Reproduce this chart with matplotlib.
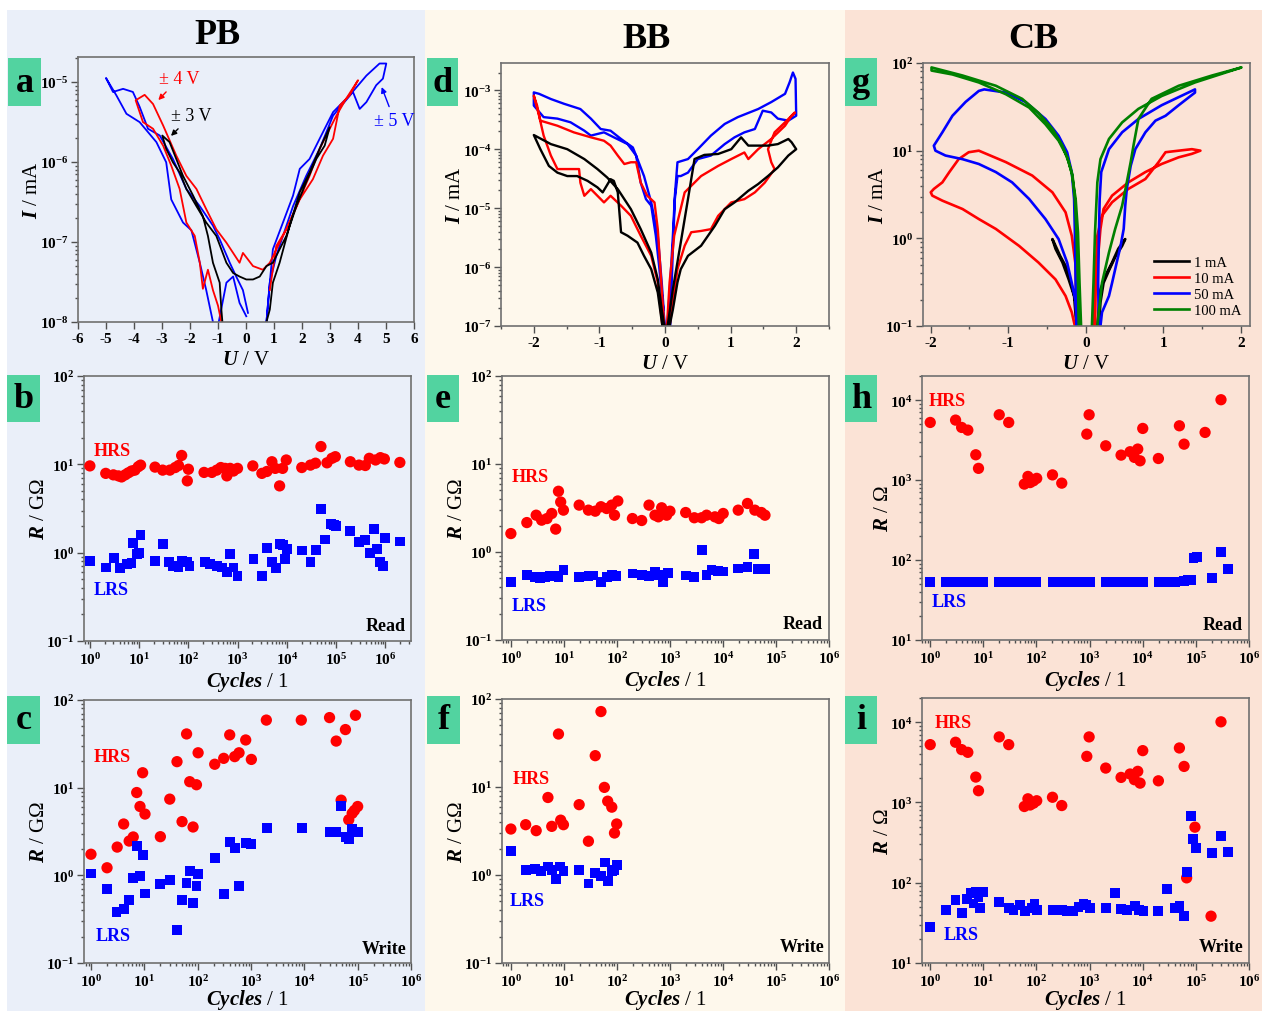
import matplotlib
matplotlib.use("Agg")
import matplotlib.pyplot as plt
from matplotlib.patches import Rectangle
from matplotlib.ticker import LogLocator, MultipleLocator, NullFormatter

plt.rcParams["font.family"] = ["Liberation Serif", "DejaVu Serif"]
plt.rcParams["font.weight"] = "bold"
plt.rcParams["mathtext.fontset"] = "custom"
plt.rcParams["mathtext.rm"] = "Liberation Serif:bold"
plt.rcParams["mathtext.it"] = "Liberation Serif:italic:bold"
plt.rcParams["mathtext.bf"] = "Liberation Serif:bold"
plt.rcParams["axes.unicode_minus"] = False

# ---------------- panel a: PB I-V loops ----------------
a_blue_U = [0.73, 0.85, 0.96, 1.32, 1.68, 1.92, 2.27, 2.63, 3.11, 3.70, 4.30, 4.77, 5.01,
            4.89, 4.65, 4.30, 4.06, 3.82, 3.11, 2.63, 2.15, 1.68, 1.32, 1.08, 0.85, 0.73]
a_blue_I = [1.0e-8, 3.1e-8, 8.1e-8, 1.75e-7, 3.8e-7, 8.2e-7, 1.09e-6, 1.95e-6, 4.2e-6, 6.8e-6, 1.2e-5, 1.7e-5, 1.7e-5,
            1.1e-5, 9.1e-6, 5.6e-6, 4.6e-6, 7.5e-6, 3.8e-6, 1.46e-6, 6.7e-7, 2.8e-7, 1.19e-7, 6.7e-8, 3.1e-8, 1.0e-8]
a_blue_neg_U = [0.07, -0.11, -0.35, -0.58, -0.94, -1.18, -1.65, -2.13, -2.61, -3.08, -3.5, -3.8, -4.04, -4.39, -4.75, -5.0,
                -4.63, -4.27, -3.8, -3.2, -2.85, -2.67, -2.25, -1.95, -1.65, -1.42, -1.18, -1.06, -0.70, -0.46, -0.23, 0.01]
a_blue_neg_I = [1.3e-8, 2.5e-8, 3.7e-8, 5.5e-8, 1.08e-7, 1.6e-7, 2.8e-7, 4.6e-7, 1.09e-6, 2.14e-6, 2.6e-6, 4.9e-6, 7.5e-6, 8.2e-6, 7.5e-6, 1.12e-5,
                6.8e-6, 4.0e-6, 3.15e-6, 1.77e-6, 9.9e-7, 3.4e-7, 1.75e-7, 1.4e-7, 5.5e-8, 2.5e-8, 1.0e-8, 7e-9, 3.1e-8, 3.7e-8, 1.73e-8, 1.18e-8]
a_red_U = [0.85, 1.08, 1.44, 1.80, 2.27, 2.63, 2.99, 3.23, 3.58, 4.0,
           3.70, 3.35, 3.11, 2.75, 2.39, 1.92, 1.56, 1.2, 0.85, 0.6, 0.25, -0.11,
           -0.23, -0.46, -0.70, -1.06, -1.42, -1.77, -2.13, -2.49, -2.96, -3.32, -3.62, -3.94,
           -3.68, -3.32, -2.96, -2.67, -2.37, -2.13, -1.83, -1.65, -1.54, -1.36, -1.18, -1.0, -0.88, -0.82]
a_red_I = [2.5e-8, 8.9e-8, 1.44e-7, 2.8e-7, 6.7e-7, 1.46e-6, 2.6e-6, 3.8e-6, 6.2e-6, 1.05e-5,
           6.8e-6, 5.1e-6, 1.95e-6, 1.2e-6, 6.1e-7, 3.4e-7, 1.75e-7, 9.8e-8, 5.5e-8, 4.5e-8, 5.0e-8, 7.3e-8,
           5.5e-8, 7.3e-8, 9.8e-8, 1.44e-7, 2.57e-7, 4.6e-7, 6.7e-7, 1.2e-6, 2.86e-6, 5.3e-6, 6.9e-6, 5.9e-6,
           3.15e-6, 2.6e-6, 1.6e-6, 9.0e-7, 4.6e-7, 1.75e-7, 1.19e-7, 5.5e-8, 2.6e-8, 4.5e-8, 2.5e-8, 1.6e-8, 1.0e-8, 7e-9]
a_black_U = [0.73, 0.85, 0.96, 1.20, 1.56, 1.92, 2.27, 2.63, 2.99,
             2.81, 2.51, 2.15, 1.80, 1.44, 1.20, 0.96, 0.73, 0.49, 0.25, 0.01,
             -0.23, -0.46, -0.70, -1.06, -1.42, -1.77, -2.13, -2.37, -2.61, -2.85, -2.99,
             -2.73, -2.49, -2.25, -1.89, -1.54, -1.36, -1.18, -0.94, -0.88, -0.82]
a_black_I = [1.0e-8, 1.43e-8, 3.1e-8, 5.5e-8, 1.6e-7, 4.2e-7, 7.4e-7, 1.46e-6, 2.72e-6,
             1.6e-6, 1.09e-6, 5.6e-7, 2.8e-7, 1.19e-7, 8.1e-8, 5.5e-8, 5.0e-8, 3.7e-8, 3.4e-8, 3.4e-8,
             3.7e-8, 4.1e-8, 5.5e-8, 1.19e-7, 1.75e-7, 2.8e-7, 4.6e-7, 7.4e-7, 9.9e-7, 1.46e-6, 2.14e-6,
             1.77e-6, 1.09e-6, 6.7e-7, 3.8e-7, 2.1e-7, 1.19e-7, 5.5e-8, 3.1e-8, 1.43e-8, 8e-9]

# ---------------- panel d: BB I-V loops ----------------
d_blue_U = ([-0.02, -0.05, -0.11, -0.21, -0.32, -0.42, -0.49, -0.67, -0.83, -0.98, -1.13, -1.29, -1.54, -1.74, -1.92, -2.0]
            + [-2.0, -1.85, -1.64, -1.44, -1.23, -1.13, -0.93, -0.78, -0.57, -0.44, -0.37, -0.29, -0.21, -0.14, -0.09, -0.04, 0.0]
            + [0.04, 0.08, 0.12, 0.15, 0.19, 0.35, 0.50, 0.70, 0.91, 1.11, 1.42, 1.62, 1.83, 1.90, 1.95, 1.99, 2.0]
            + [1.88, 1.72, 1.62, 1.49, 1.37, 1.21, 1.06, 0.91, 0.70, 0.50, 0.35, 0.24, 0.19, 0.15, 0.12, 0.08])
d_blue_I = ([1.9e-7, 5.5e-7, 3.4e-6, 1.25e-5, 3.5e-5, 6.8e-5, 1.07e-4, 1.49e-4, 2.06e-4, 2.2e-4, 3.3e-4, 4.8e-4, 5.9e-4, 7.1e-4, 8.7e-4, 9.2e-4]
            + [5.5e-4, 3.5e-4, 3.3e-4, 2.86e-4, 2.06e-4, 1.7e-4, 1.93e-4, 1.59e-4, 1.22e-4, 7.8e-5, 2.7e-5, 1.42e-5, 1.1e-5, 3.4e-6, 1.05e-6, 2.8e-7, 1e-7]
            + [1.14e-7, 5.5e-7, 3.4e-6, 1.62e-5, 6.0e-5, 6.8e-5, 1.0e-4, 1.7e-4, 2.68e-4, 3.5e-4, 4.8e-4, 6.3e-4, 8.7e-4, 1.37e-3, 2.0e-3, 1.56e-3, 3.7e-4]
            + [3.05e-4, 3.3e-4, 4.2e-4, 4.5e-4, 2.2e-4, 1.93e-4, 1.59e-4, 1.22e-4, 7.8e-5, 6.8e-5, 4.0e-5, 3.5e-5, 3.5e-5, 1.42e-5, 2.0e-6, 1e-7])
d_red_U = ([-0.01, -0.05, -0.11, -0.16, -0.27, -0.37, -0.44, -0.52, -0.62, -0.72, -0.83, -0.93, -1.13, -1.39, -1.64, -1.90, -1.95, -2.0]
           + [-1.92, -1.85, -1.74, -1.64, -1.39, -1.31, -1.29, -1.23, -1.13, -1.03, -0.93, -0.83, -0.67, -0.52, -0.37, -0.21, -0.11, -0.04]
           + [0.03, 0.07, 0.14, 0.30, 0.55, 0.81, 1.01, 1.21, 1.27, 1.42, 1.62, 1.83, 1.93, 1.98]
           + [1.83, 1.67, 1.57, 1.62, 1.67, 1.52, 1.37, 1.21, 1.01, 0.81, 0.70, 0.55, 0.40, 0.30, 0.19, 0.12, 0.07])
d_red_I = ([1e-7, 4.2e-7, 4.4e-6, 1.25e-5, 1.62e-5, 2.7e-5, 6.0e-5, 6.0e-5, 5.6e-5, 7.8e-5, 1.15e-4, 1.39e-4, 1.59e-4, 1.93e-4, 2.5e-4, 3.05e-4, 5.5e-4, 8.1e-4]
           + [3.7e-4, 1.7e-4, 7.8e-5, 4.6e-5, 4.6e-5, 4.6e-5, 2.7e-5, 1.62e-5, 2.1e-5, 1.62e-5, 1.25e-5, 1.62e-5, 1.1e-5, 7.4e-6, 3.4e-6, 1.55e-6, 5.5e-7, 1e-7]
           + [1e-7, 5.5e-7, 3.4e-6, 1.85e-5, 3.5e-5, 5.2e-5, 6.8e-5, 8.8e-5, 6.8e-5, 1.0e-4, 1.49e-4, 2.5e-4, 3.7e-4, 4.2e-4]
           + [2.86e-4, 1.93e-4, 1.0e-4, 6.0e-5, 4.6e-5, 2.7e-5, 1.85e-5, 1.42e-5, 1.25e-5, 7.4e-6, 4.4e-6, 4.1e-6, 3.9e-6, 2.3e-6, 9.2e-7, 2.5e-7, 1e-7])
d_black_U = ([-0.01, -0.05, -0.11, -0.21, -0.37, -0.52, -0.72, -0.88, -1.03, -1.23, -1.49, -1.74, -2.0]
             + [-1.90, -1.77, -1.64, -1.49, -1.34, -1.18, -1.03, -0.95, -0.83, -0.78, -0.72, -0.67, -0.57, -0.42, -0.32, -0.21, -0.11, -0.04]
             + [0.04, 0.12, 0.24, 0.35, 0.45, 0.60, 0.81, 1.01, 1.16, 1.27, 1.42, 1.57, 1.72, 1.88, 1.93, 2.0]
             + [1.88, 1.72, 1.57, 1.42, 1.27, 1.06, 0.91, 0.76, 0.55, 0.35, 0.24, 0.19, 0.12, 0.07])
d_black_I = ([1e-7, 1.9e-7, 6.2e-7, 1.76e-6, 4.4e-6, 9.6e-6, 2.1e-5, 3.3e-5, 4.6e-5, 6.8e-5, 1.0e-4, 1.22e-4, 1.74e-4]
             + [1.0e-4, 5.2e-5, 4.0e-5, 3.5e-5, 3.5e-5, 2.9e-5, 2.25e-5, 1.85e-5, 3.1e-5, 2.9e-5, 1.85e-5, 3.9e-6, 3.4e-6, 2.6e-6, 1.55e-6, 9.2e-7, 3.7e-7, 1e-7]
             + [1e-7, 4.2e-7, 2.6e-6, 1.42e-5, 6.8e-5, 8.0e-5, 8.3e-5, 1.0e-4, 1.59e-4, 1.15e-4, 1.15e-4, 1.15e-4, 1.22e-4, 1.49e-4, 1.31e-4, 1.0e-4]
             + [7.8e-5, 4.9e-5, 3.5e-5, 2.56e-5, 1.97e-5, 1.25e-5, 9.6e-6, 5.0e-6, 2.3e-6, 1.55e-6, 9.2e-7, 5.5e-7, 1.9e-7, 1e-7])

# ---------------- panel g: CB I-V loops (compliance currents) ----------------
g_black_neg_U = [-0.12, -0.15, -0.22, -0.30, -0.39, -0.43, -0.41, -0.33, -0.24, -0.18, -0.13, -0.11]
g_black_neg_I = [0.10, 0.22, 0.34, 0.53, 0.76, 0.98, 0.90, 0.63, 0.45, 0.29, 0.186, 0.10]
g_black_pos_U = [0.15, 0.19, 0.25, 0.34, 0.42, 0.51, 0.47, 0.38, 0.30, 0.23, 0.19, 0.17]
g_black_pos_I = [0.10, 0.26, 0.37, 0.53, 0.76, 0.98, 0.82, 0.61, 0.43, 0.31, 0.186, 0.10]
g_red_neg_U = ([-0.12, -0.13, -0.18, -0.26, -0.43, -0.69, -1.03, -1.38, -1.51, -1.64, -1.76, -1.85, -1.96, -2.0]
               + [-1.98, -1.85, -1.59, -1.38, -1.16, -0.86, -0.61, -0.39, -0.26, -0.18, -0.14])
g_red_neg_I = ([0.10, 0.49, 1.07, 1.98, 3.35, 5.2, 7.4, 10, 9.6, 8.0, 5.7, 4.35, 3.66, 3.35]
               + [3.07, 2.69, 2.16, 1.66, 1.28, 0.82, 0.53, 0.34, 0.22, 0.143, 0.10])
g_red_pos_U = ([0.09, 0.12, 0.15, 0.21, 0.34, 0.55, 0.77, 0.94, 1.03, 1.20, 1.37, 1.48]
               + [1.37, 1.20, 0.98, 0.77, 0.55, 0.34, 0.23, 0.19, 0.16, 0.13, 0.12])
g_red_pos_I = ([0.10, 0.31, 1.07, 1.82, 2.58, 3.66, 4.75, 7.4, 9.6, 10, 10.4, 10]
               + [9.2, 8.4, 7.05, 5.7, 4.35, 3.07, 2.16, 1.28, 0.63, 0.31, 0.10])
g_blue_neg_U = [-0.12, -0.13, -0.14, -0.15, -0.18, -0.24, -0.35, -0.52, -0.78, -1.03, -1.31, -1.38, -1.55, -1.72, -1.85,
                -1.96, -1.94, -1.81, -1.59, -1.38, -1.16, -0.95, -0.73, -0.52, -0.35, -0.24, -0.18, -0.13, -0.11]
g_blue_neg_I = [0.10, 0.31, 1.17, 2.81, 5.7, 9.6, 14.8, 23, 36, 46, 50, 48, 36, 25, 16.2,
                11.4, 10, 8.8, 8.0, 7.05, 5.7, 4.35, 2.81, 1.66, 0.98, 0.53, 0.31, 0.19, 0.10]
g_blue_pos_U = ([0.17, 0.16, 0.17, 0.18, 0.20, 0.30, 0.47, 0.68, 0.98, 1.41]
                + [1.41, 1.20, 1.03, 0.90, 0.77, 0.64, 0.58, 0.53, 0.51, 0.49, 0.45, 0.40, 0.34, 0.30, 0.21, 0.19])
g_blue_pos_I = ([0.10, 0.31, 1.07, 2.81, 5.7, 10.4, 16.2, 23, 33, 50]
                + [46, 33, 25, 22, 16.2, 10.4, 6.7, 3.66, 2.36, 1.28, 0.82, 0.53, 0.31, 0.22, 0.143, 0.10])
g_green_neg_U = ([-0.09, -0.10, -0.12, -0.14, -0.17, -0.22, -0.30, -0.43, -0.61, -0.82, -1.16, -1.59, -1.99]
                 + [-1.99, -1.72, -1.38, -1.03, -0.73, -0.52, -0.35, -0.24, -0.18, -0.13, -0.10, -0.08, -0.06])
g_green_neg_I = ([0.10, 0.31, 1.17, 2.81, 5.2, 7.4, 11.4, 17.7, 27, 39, 55, 72, 89]
                 + [82, 74, 60, 44, 31, 20, 13, 8.5, 5.5, 2.81, 1.17, 0.31, 0.10])
g_green_pos_U = ([0.08, 0.10, 0.12, 0.15, 0.19, 0.30, 0.47, 0.68, 0.98, 1.41, 2.01]
                 + [1.63, 1.20, 0.85, 0.68, 0.62, 0.58, 0.53, 0.47, 0.38, 0.30, 0.21, 0.15])
g_green_pos_I = ([0.10, 0.31, 1.17, 4.35, 8.0, 13.6, 21, 30, 42, 60, 89]
                 + [72, 55, 39, 23, 11.9, 7.4, 4.35, 2.36, 1.28, 0.69, 0.31, 0.10])
g_labels = ["1 mA", "10 mA", "50 mA", "100 mA"]

# ---------------- panel b: PB read endurance ----------------
b_hrs_n = [1, 2.1, 3.0, 3.8, 4.4, 5.2, 6.0, 7.0, 8.2, 9.6, 10.7, 21, 30, 42, 54, 63, 73, 100, 95, 208,
           300, 377, 455, 557, 603, 704, 823, 993, 2030, 3100, 3920, 4950, 5790, 7100, 8170, 9700,
           2.0e4, 3.0e4, 3.8e4, 4.9e4, 6.5e4, 8.2e4, 9.6e4, 1.94e5, 2.9e5, 3.9e5, 4.7e5, 6.3e5, 7.9e5, 9.5e5, 1.96e6]
b_hrs_r = [9.6, 7.9, 7.6, 7.4, 7.2, 7.6, 8.0, 8.4, 8.6, 9.4, 9.8, 9.3, 8.6, 8.6, 9.2, 9.7, 12.6, 8.8, 6.5, 8.1,
           8.1, 8.6, 9.2, 9.0, 7.4, 9.0, 8.4, 9.0, 9.6, 7.9, 8.3, 10.7, 9.0, 5.7, 9.0, 11.2,
           9.2, 9.8, 10.3, 15.9, 10.4, 11.7, 12.2, 10.7, 9.8, 9.7, 11.7, 11.2, 11.9, 11.5, 10.5]
b_lrs_n = [1, 2.1, 3.1, 4.1, 5.6, 7.0, 7.4, 8.9, 10.1, 10.7, 21, 31, 41, 49, 63, 73, 92, 105,
           218, 275, 377, 474, 603, 704, 823, 993, 2100, 3100, 3920, 4950, 6100, 7100, 8300, 9200, 1.0e4,
           2.0e4, 3.0e4, 3.9e4, 4.9e4, 6.0e4, 7.8e4, 9.0e4, 1.0e5, 1.94e5, 2.9e5, 3.9e5, 4.9e5, 5.8e5,
           6.8e5, 7.7e5, 8.9e5, 9.8e5, 1.96e6]
b_lrs_r = [0.81, 0.68, 0.87, 0.67, 0.75, 0.77, 1.29, 0.97, 1.0, 1.6, 0.81, 1.26, 0.78, 0.71, 0.68, 0.81, 0.79, 0.71,
           0.78, 0.75, 0.70, 0.68, 0.60, 0.97, 0.68, 0.55, 0.84, 0.54, 1.14, 0.79, 0.67, 1.26, 1.21, 0.85, 1.11,
           1.06, 0.78, 1.08, 3.1, 1.41, 2.13, 2.04, 2.0, 1.77, 1.32, 1.38, 1.0, 1.87,
           1.11, 0.79, 0.70, 1.46, 1.34]

# ---------------- panel c: PB write endurance ----------------
c_hrs_n = [1, 2.0, 3.1, 4.1, 5.2, 6.2, 7.2, 8.3, 9.3, 10.3, 20, 30, 41, 51, 62, 71, 82, 95, 102, 209,
           308, 399, 495, 597, 796, 1016, 1940, 8770, 2.97e4, 3.96e4, 5.9e4, 9.1e4, 4.9e4, 6.8e4, 7.9e4, 8.7e4, 1.0e5]
c_hrs_r = [1.74, 1.22, 2.1, 3.85, 2.46, 2.74, 8.8, 6.1, 14.8, 5.0, 2.76, 7.4, 19.8, 4.1, 41, 11.7, 3.56, 10.8, 25, 18.5,
           21.6, 40, 22.6, 25, 35, 21, 59, 59, 63, 34, 46, 67, 7.2, 4.3, 5.1, 5.5, 6.1]
c_lrs_n = [1, 2.0, 3.0, 4.1, 5.2, 6.2, 7.2, 8.3, 9.3, 10.3, 20, 30, 41, 51, 62, 71, 82, 95, 102, 209,
           308, 399, 495, 597, 796, 1016, 1970, 8900, 2.97e4, 3.96e4, 4.9e4, 5.9e4, 6.8e4, 7.9e4, 8.7e4, 1.0e5]
c_lrs_r = [1.05, 0.70, 0.38, 0.41, 0.52, 0.94, 2.16, 0.98, 1.71, 0.62, 0.79, 0.88, 0.24, 0.52, 0.82, 1.12, 0.48, 0.76, 1.03, 1.59,
           0.61, 2.4, 2.05, 0.76, 2.36, 2.26, 3.5, 3.5, 3.1, 3.1, 6.2, 2.76, 2.58, 3.4, 3.1, 3.1]

# ---------------- panel e: BB read endurance ----------------
e_hrs_n = [1, 2.0, 3.0, 3.8, 4.8, 5.9, 7.0, 7.9, 8.7, 9.8, 19.4, 29, 39, 50, 64, 80, 90, 104, 196, 293,
           403, 522, 604, 698, 867, 1000, 1980, 2880, 3960, 4910, 7050, 8380, 1.01e4, 1.94e4, 2.9e4, 3.99e4, 5.3e4, 6.2e4]
e_hrs_r = [1.62, 2.16, 2.62, 2.30, 2.40, 2.74, 1.82, 4.9, 3.7, 2.99, 3.41, 2.99, 2.91, 3.27, 3.12, 3.41, 2.62, 3.8, 2.40, 2.28,
           3.41, 2.62, 2.51, 3.18, 2.62, 2.91, 2.81, 2.45, 2.45, 2.62, 2.51, 2.40, 2.74, 2.99, 3.56, 2.99, 2.81, 2.62]
e_lrs_n = [1, 2.0, 2.9, 3.6, 4.4, 5.5, 6.8, 7.9, 9.8, 19.4, 29, 36, 50, 64, 80, 95, 196, 293, 403, 522,
           604, 750, 933, 1980, 2880, 3960, 4910, 6100, 8150, 1.01e4, 1.94e4, 2.9e4, 3.9e4, 4.6e4, 6.2e4]
e_lrs_r = [0.46, 0.55, 0.52, 0.51, 0.52, 0.54, 0.53, 0.52, 0.62, 0.52, 0.53, 0.54, 0.46, 0.52, 0.55, 0.53, 0.57, 0.55, 0.53, 0.59,
           0.55, 0.46, 0.58, 0.54, 0.52, 1.05, 0.55, 0.62, 0.61, 0.60, 0.65, 0.68, 0.94, 0.64, 0.64]

# ---------------- panel f: BB write endurance ----------------
f_hrs_n = [1, 1.9, 3.0, 5.0, 5.9, 7.9, 8.7, 9.8, 19.4, 29, 39, 50, 58, 67, 80, 90, 99]
f_hrs_r = [3.33, 3.73, 3.19, 7.6, 3.57, 40, 4.2, 3.73, 6.3, 2.42, 22.7, 72, 9.9, 6.9, 5.9, 3.0, 3.8]
f_lrs_n = [1, 1.9, 2.9, 3.7, 5.0, 5.9, 7.0, 8.5, 9.8, 19.4, 29, 39, 50, 60, 67, 80, 90, 99]
f_lrs_r = [1.86, 1.15, 1.18, 1.10, 1.25, 1.15, 0.90, 1.25, 1.10, 1.13, 0.80, 1.05, 0.97, 1.39, 0.85, 1.10, 1.15, 1.31]

# ---------------- panel h: CB read endurance ----------------
h_hrs_n = [1, 3.0, 3.9, 5.1, 7.2, 8.1, 19.9, 30, 59, 69, 76, 88, 101, 200, 299, 885, 979, 2010, 3910, 5780,
           6970, 8050, 8910, 1.0e4, 1.97e4, 4.9e4, 6.0e4, 1.49e5, 2.97e5]
h_hrs_r = [5250, 5620, 4550, 4210, 2070, 1400, 6550, 5250, 890, 1110, 930, 980, 1050, 1160, 915, 3750, 6550, 2680, 2050, 2260,
           1920, 2440, 1740, 4420, 1860, 4770, 2810, 3940, 1.01e4]
h_lrs_n = [1, 2, 3, 4, 5, 6, 7, 8, 9, 10, 20, 30, 40, 50, 60, 70, 80, 90, 100,
           200, 300, 400, 500, 600, 700, 800, 900, 1000, 2000, 3000, 4000, 5000, 6000, 7000, 8000, 9000, 10000,
           20000, 30000, 40000, 50000, 60000, 70000, 80000, 90000, 105000, 200000, 300000, 400000]
h_lrs_r = [53, 53, 53, 53, 53, 53, 53, 53, 53, 53, 53, 53, 53, 53, 53, 53, 53, 53, 53,
           53, 53, 53, 53, 53, 53, 53, 53, 53, 53, 53, 53, 53, 53, 53, 53, 53, 53,
           53, 53, 53, 54, 55, 56, 56, 107, 110, 60, 126, 77]

# ---------------- panel i: CB write endurance ----------------
i_hrs_n = [1, 3.0, 3.9, 5.1, 7.2, 8.1, 19.9, 30, 59, 69, 76, 88, 101, 200, 299, 885, 979, 2010, 3910, 5780,
           6970, 8050, 8910, 1.0e4, 1.97e4, 4.9e4, 6.0e4, 6.7e4, 9.6e4, 1.93e5, 2.97e5]
i_hrs_r = [5250, 5620, 4550, 4210, 2070, 1400, 6550, 5250, 890, 1110, 930, 980, 1050, 1160, 915, 3750, 6550, 2680, 2050, 2260,
           1920, 2440, 1740, 4420, 1860, 4770, 2810, 115, 492, 38.3, 1.01e4]
i_lrs_n = [1, 2.0, 3.0, 3.9, 4.9, 5.9, 6.5, 7.2, 8.1, 8.7, 10.1, 20, 30, 37, 49, 61, 82, 92, 101, 200,
           299, 372, 497, 617, 766, 847, 1020, 2010, 3020, 3910, 5000, 7180, 8530, 1.03e4, 1.97e4, 2.83e4,
           4.06e4, 4.9e4, 6.0e4, 6.7e4, 8.0e4, 8.7e4, 9.9e4, 1.99e5, 2.97e5, 3.97e5]
i_lrs_r = [28.2, 45.5, 61, 42, 62, 74, 55, 76, 66, 48, 76, 58, 48, 45.5, 53, 44.7, 48, 55, 45.5, 45.5,
           45.5, 44.2, 44.7, 50, 55, 53, 48, 48, 75, 47, 46, 51, 45.5, 44.2, 44.7, 83,
           49, 51, 38.3, 137, 681, 348, 269, 237, 383, 244]

cycle_ticks = [1, 10, 100, 1e3, 1e4, 1e5, 1e6]
W, H = 1262, 1012
RED, BLUE, GREEN = "#ff0000", "#0000ff", "#008000"


def rect(l, t, r, b):
    return [l / W, 1 - b / H, (r - l) / W, (b - t) / H]


def style(ax):
    ax.patch.set_alpha(0)
    for s in ax.spines.values():
        s.set_color("#707070")
        s.set_linewidth(1.2)
    ax.tick_params(which="both", direction="out", top=False, right=False,
                   labelsize=11, color="#505050", width=1, pad=2)
    ax.tick_params(which="major", length=5)
    ax.tick_params(which="minor", length=2.5)


def decades(lo, hi):
    return [10.0 ** k for k in range(-9, 7) if lo * 0.999 <= 10.0 ** k <= hi * 1.001]


def iv_axes(ax, xlim, xticks, ylim, minor=None):
    ax.set_yscale("log")
    ax.set_xlim(*xlim)
    ax.set_ylim(*ylim)
    ax.set_xticks(xticks)
    ax.set_yticks(decades(*ylim))
    if minor:
        ax.xaxis.set_minor_locator(MultipleLocator(minor))
    ax.yaxis.set_minor_locator(LogLocator(subs=range(2, 10), numticks=20))
    ax.yaxis.set_minor_formatter(NullFormatter())
    ax.set_xlabel(r"$U$ / V", fontsize=15, labelpad=4)
    ax.set_ylabel(r"$I$ / mA", fontsize=15, labelpad=-2)
    style(ax)


def cycle_axes(ax, xlim, ylim, hrs, lrs, ylabel, mode, hrs_xy, lrs_xy, mode_xy, xpad=2):
    ax.scatter(hrs[0], hrs[1], s=66, marker="o", color=RED, edgecolors="none", zorder=3)
    ax.scatter(lrs[0], lrs[1], s=50, marker="s", color=BLUE, edgecolors="none", zorder=3)
    ax.set_xscale("log")
    ax.set_yscale("log")
    ax.set_xticks([t for t in cycle_ticks if xlim[0] <= t <= xlim[1] * 1.001])
    ax.set_yticks(decades(*ylim))
    ax.xaxis.set_minor_locator(LogLocator(subs=range(2, 10), numticks=20))
    ax.xaxis.set_minor_formatter(NullFormatter())
    ax.yaxis.set_minor_locator(LogLocator(subs=range(2, 10), numticks=20))
    ax.yaxis.set_minor_formatter(NullFormatter())
    ax.set_xlim(*xlim)
    ax.set_ylim(*ylim)
    ax.set_xlabel(r"$Cycles$ / 1", fontsize=15, labelpad=xpad)
    ax.set_ylabel(ylabel, fontsize=15, labelpad=-2)
    ax.text(*hrs_xy, "HRS", color=RED, fontsize=13, transform=ax.transAxes, va="center", ha="left")
    ax.text(*lrs_xy, "LRS", color=BLUE, fontsize=13, transform=ax.transAxes, va="center", ha="left")
    ax.text(*mode_xy, mode, color="black", fontsize=13, transform=ax.transAxes, va="center", ha="right")
    style(ax)


fig = plt.figure(figsize=(W / 100, H / 100), dpi=100)

# column backgrounds
for l, r, c in [(7, 425, "#eaeff9"), (425, 845, "#fef8ec"), (845, 1262, "#fbe3d6")]:
    fig.add_artist(Rectangle((l / W, 0), (r - l) / W, (H - 11) / H, transform=fig.transFigure,
                             facecolor=c, edgecolor="none", zorder=-5))

for x, y, t in [(217, 35, "PB"), (647, 40, "BB"), (1033, 40, "CB")]:
    fig.text(x / W, 1 - y / H, t, fontsize=26, ha="center", va="center")

# panel letters
for l, t, r, b, s in [(8, 59, 41, 107, "a"), (7, 376, 40, 423, "b"), (7, 697, 40, 745, "c"),
                      (427, 59, 458, 107, "d"), (427, 376, 459, 423, "e"), (427, 697, 460, 745, "f"),
                      (845, 59, 877, 107, "g"), (845, 376, 877, 423, "h"), (845, 697, 877, 745, "i")]:
    fig.add_artist(Rectangle((l / W, 1 - b / H), (r - l) / W, (b - t) / H, transform=fig.transFigure,
                             facecolor="#52d3a0", edgecolor="none", zorder=5))
    fig.text((l + r) / 2 / W, 1 - (t + b) / 2 / H, s, fontsize=26, ha="center", va="center", zorder=6)

# a
ax = fig.add_axes(rect(78, 58, 414, 323))
ax.plot(a_blue_U, a_blue_I, color=BLUE, lw=1.3)
ax.plot(a_blue_neg_U, a_blue_neg_I, color=BLUE, lw=1.3)
ax.plot(a_red_U, a_red_I, color=RED, lw=1.3)
ax.plot(a_black_U, a_black_I, color="black", lw=1.3)
iv_axes(ax, (-6, 6), range(-6, 7), (1e-8, 2.05e-5))
ax.annotate("± 4 V", xy=(-3.2, 5.6e-6), xytext=(-2.4, 1.1e-5), color=RED, fontsize=13, fontweight="normal",
            ha="center", va="center", arrowprops=dict(arrowstyle="-|>", color=RED, lw=1, mutation_scale=8))
ax.annotate("± 3 V", xy=(-2.75, 2.0e-6), xytext=(-1.95, 3.8e-6), color="black", fontsize=13, fontweight="normal",
            ha="center", va="center", arrowprops=dict(arrowstyle="-|>", color="black", lw=1, mutation_scale=8))
ax.annotate("± 5 V", xy=(4.81, 9.3e-6), xytext=(5.3, 3.3e-6), color=BLUE, fontsize=13, fontweight="normal",
            ha="center", va="center", arrowprops=dict(arrowstyle="-|>", color=BLUE, lw=1, mutation_scale=8))

# d
ax = fig.add_axes(rect(501, 64, 829, 327))
ax.plot(d_blue_U, d_blue_I, color=BLUE, lw=1.7)
ax.plot(d_red_U, d_red_I, color=RED, lw=1.7)
ax.plot(d_black_U, d_black_I, color="black", lw=1.7)
iv_axes(ax, (-2.5, 2.5), range(-2, 3), (1e-7, 2.9e-3), minor=0.5)

# g
ax = fig.add_axes(rect(923, 64, 1250, 327))
ax.plot(g_black_neg_U, g_black_neg_I, color="black", lw=1.9, label=g_labels[0])
ax.plot(g_black_pos_U, g_black_pos_I, color="black", lw=1.9)
ax.plot(g_red_neg_U, g_red_neg_I, color=RED, lw=1.9, label=g_labels[1])
ax.plot(g_red_pos_U, g_red_pos_I, color=RED, lw=1.9)
ax.plot(g_blue_neg_U, g_blue_neg_I, color=BLUE, lw=1.9, label=g_labels[2])
ax.plot(g_blue_pos_U, g_blue_pos_I, color=BLUE, lw=1.9)
ax.plot(g_green_neg_U, g_green_neg_I, color=GREEN, lw=1.9, label=g_labels[3])
ax.plot(g_green_pos_U, g_green_pos_I, color=GREEN, lw=1.9)
iv_axes(ax, (-2.1, 2.12), range(-2, 3), (0.1, 100), minor=0.5)
ax.legend(loc="lower right", frameon=False, prop=dict(family="Liberation Serif", weight="normal", size=10.5),
          handlelength=2.4, labelspacing=0.2, handletextpad=0.3, borderaxespad=0.2)

# b, e, h
cycle_axes(fig.add_axes(rect(84, 377, 411, 642)), (0.76, 3.3e6), (0.1, 100), (b_hrs_n, b_hrs_r), (b_lrs_n, b_lrs_r),
           r"$R$ / GΩ", "Read", (0.028, 0.72), (0.028, 0.196), (0.985, 0.057))
cycle_axes(fig.add_axes(rect(502, 377, 829, 641)), (0.68, 1e6), (0.1, 100), (e_hrs_n, e_hrs_r), (e_lrs_n, e_lrs_r),
           r"$R$ / GΩ", "Read", (0.028, 0.621), (0.028, 0.129), (0.982, 0.061))
cycle_axes(fig.add_axes(rect(922, 377, 1249, 641)), (0.70, 1e6), (10, 2e4), (h_hrs_n, h_hrs_r), (h_lrs_n, h_lrs_r),
           r"$R$ / Ω", "Read", (0.021, 0.909), (0.031, 0.144), (0.982, 0.057))

# c, f, i
cycle_axes(fig.add_axes(rect(84, 701, 411, 964)), (0.74, 1e6), (0.1, 100), (c_hrs_n, c_hrs_r), (c_lrs_n, c_lrs_r),
           r"$R$ / GΩ", "Write", (0.028, 0.787), (0.037, 0.106), (0.985, 0.057), xpad=-1)
cycle_axes(fig.add_axes(rect(502, 700, 829, 964)), (0.68, 1e6), (0.1, 100), (f_hrs_n, f_hrs_r), (f_lrs_n, f_lrs_r),
           r"$R$ / GΩ", "Write", (0.034, 0.70), (0.024, 0.235), (0.985, 0.061), xpad=-1)
cycle_axes(fig.add_axes(rect(922, 699, 1249, 964)), (0.70, 1e6), (10, 2e4), (i_hrs_n, i_hrs_r), (i_lrs_n, i_lrs_r),
           r"$R$ / Ω", "Write", (0.04, 0.909), (0.067, 0.106), (0.982, 0.064), xpad=-1)

fig.savefig("out.png", dpi=100)
